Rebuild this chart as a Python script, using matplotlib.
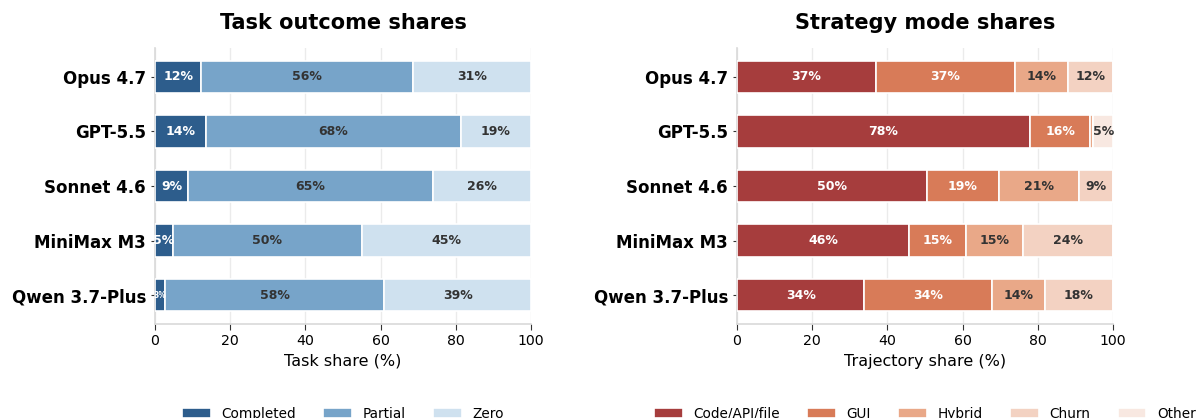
import matplotlib.pyplot as plt
import numpy as np

models = ['Opus 4.7', 'GPT-5.5', 'Sonnet 4.6', 'MiniMax M3', 'Qwen 3.7-Plus']

# task outcome shares (%)
outcome_names = ['Completed', 'Partial', 'Zero']
completed = [12.3, 13.6, 8.8, 4.8, 2.7]
partial = [56.4, 67.7, 65.2, 50.2, 58.3]
zero = [31.3, 18.7, 26.0, 45.0, 39.0]

# strategy mode shares (%)
mode_names = ['Code/API/file', 'GUI', 'Hybrid', 'Churn', 'Other']
code_api = [36.9, 77.9, 50.4, 45.8, 33.9]
gui = [37.0, 16.1, 19.3, 15.2, 34.0]
hybrid = [14.1, 0.8, 21.2, 15.0, 14.0]
churn = [12.0, 0.0, 9.1, 24.0, 18.1]
other = [0.0, 5.2, 0.0, 0.0, 0.0]

blues = ['#2d5d8c', '#77a4c9', '#cfe1ef']
reds = ['#a63d3d', '#d87b58', '#e9a888', '#f3d2c2', '#f8e8e1']
light_text = [True, False, False]
light_text_r = [True, True, False, False, False]


def stacked(ax, series, names, colors, white, title, xlabel):
	y = np.arange(len(models))
	left = np.zeros(len(models))
	for vals, name, col, wt in zip(series, names, colors, white):
		vals = np.array(vals)
		ax.barh(y, vals, left=left, height=0.6, color=col, edgecolor='white',
				linewidth=1.2, label=name, zorder=3)
		for yi, (l, v) in enumerate(zip(left, vals)):
			if v < 2:
				continue
			fs = 9 if v >= 4 else 5.5
			ax.text(l + v / 2, yi, '%d%%' % round(v), ha='center', va='center',
					fontsize=fs, fontweight='bold',
					color='white' if wt else '#333333', zorder=4)
		left = left + vals
	ax.set_yticks(y)
	ax.set_yticklabels(models, fontsize=12, fontweight='bold')
	ax.invert_yaxis()
	ax.set_xlim(0, 100)
	ax.set_xticks([0, 20, 40, 60, 80, 100])
	ax.tick_params(axis='x', labelsize=10.2, length=4, color='#333333')
	ax.tick_params(axis='y', length=3, color='#333333')
	ax.set_xlabel(xlabel, fontsize=11.5)
	ax.set_title(title, fontsize=15, fontweight='bold', pad=14)
	ax.grid(axis='x', color='#ebebeb', linewidth=1, zorder=0)
	ax.set_axisbelow(True)
	for s in ['top', 'right']:
		ax.spines[s].set_visible(False)
	for s in ['left', 'bottom']:
		ax.spines[s].set_color('#d9d9d9')
		ax.spines[s].set_linewidth(1.2)
	ax.legend(loc='upper center', bbox_to_anchor=(0.5, -0.255), ncol=len(names),
			  frameon=False, fontsize=9.8, handlelength=2.1, columnspacing=2.0)


fig = plt.figure(figsize=(12.01, 4.18), dpi=100)
ax1 = fig.add_axes([155 / 1201, 1 - 324 / 418, 376 / 1201, 276 / 418])
ax2 = fig.add_axes([737 / 1201, 1 - 324 / 418, 376 / 1201, 276 / 418])

stacked(ax1, [completed, partial, zero], outcome_names, blues, light_text,
		'Task outcome shares', 'Task share (%)')
stacked(ax2, [code_api, gui, hybrid, churn, other], mode_names, reds, light_text_r,
		'Strategy mode shares', 'Trajectory share (%)')

fig.savefig('out.png', dpi=100)
